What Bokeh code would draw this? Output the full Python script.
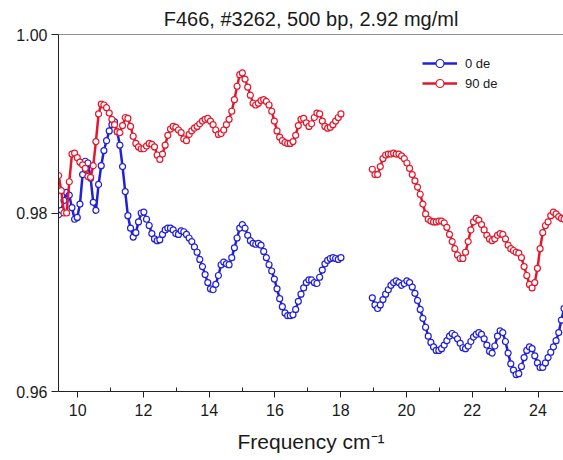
import math
from bokeh.plotting import figure
from bokeh.models import Range1d, FixedTicker, Span, Legend, LegendItem, PrintfTickFormatter
from bokeh.embed import file_html
from bokeh.resources import INLINE

title_text = "F466, #3262, 500 bp, 2.92 mg/ml"
x_label = "Frequency cm\u207b\u00b9"
series_names = ["0 de", "90 de"]
x_ticks = [10, 12, 14, 16, 18, 20, 22, 24]
x_minor = [11, 13, 15, 17, 19, 21, 23]
y_ticks = [0.96, 0.98, 1.00]

# frequency sampling (cm^-1) of the two measured windows
freq_seg1 = [round(9.42 + 0.081 * i, 3) for i in range(107)]
freq_seg2 = [round(18.96 + 0.081 * i, 3) for i in range(74)]

blue_seg1 = [
    0.9798, 0.9803, 0.9814, 0.9823, 0.9820, 0.9806, 0.9793, 0.9795, 0.9810, 0.9843,
    0.9858, 0.9856, 0.9839, 0.9812, 0.9803, 0.9832, 0.9853, 0.9870, 0.9881, 0.9892,
    0.9899, 0.9902, 0.9891, 0.9876, 0.9852, 0.9824, 0.9797, 0.9783, 0.9773, 0.9778,
    0.9790, 0.9800, 0.9801, 0.9793, 0.9786, 0.9777, 0.9771, 0.9769, 0.9770, 0.9776,
    0.9781, 0.9783, 0.9783, 0.9781, 0.9777, 0.9776, 0.9780, 0.9779, 0.9776, 0.9772,
    0.9768, 0.9762, 0.9756, 0.9748, 0.9740, 0.9731, 0.9722, 0.9715, 0.9714, 0.9720,
    0.9730, 0.9742, 0.9745, 0.9743, 0.9742, 0.9750, 0.9761, 0.9772, 0.9783, 0.9787,
    0.9783, 0.9775, 0.9769, 0.9766, 0.9765, 0.9766, 0.9764, 0.9757, 0.9750, 0.9742,
    0.9735, 0.9726, 0.9715, 0.9704, 0.9695, 0.9688, 0.9685, 0.9685, 0.9686, 0.9692,
    0.9701, 0.9709, 0.9716, 0.9722, 0.9725, 0.9725, 0.9722, 0.9721, 0.9728, 0.9736,
    0.9743, 0.9747, 0.9749, 0.9750, 0.9749, 0.9748, 0.9750,
]
red_seg1 = [
    0.9842, 0.9825, 0.9800, 0.9800, 0.9835, 0.9866, 0.9867, 0.9862, 0.9857, 0.9854,
    0.9850, 0.9841, 0.9840, 0.9853, 0.9880, 0.9911, 0.9922, 0.9921, 0.9918, 0.9912,
    0.9905, 0.9899, 0.9891, 0.9890, 0.9898, 0.9907, 0.9906, 0.9897, 0.9886, 0.9878,
    0.9874, 0.9872, 0.9872, 0.9875, 0.9878, 0.9877, 0.9874, 0.9865, 0.9860, 0.9866,
    0.9876, 0.9887, 0.9894, 0.9897, 0.9896, 0.9893, 0.9890, 0.9883, 0.9881, 0.9888,
    0.9892, 0.9895, 0.9897, 0.9900, 0.9903, 0.9905, 0.9906, 0.9903, 0.9899, 0.9893,
    0.9888, 0.9889, 0.9893, 0.9899, 0.9905, 0.9914, 0.9927, 0.9942, 0.9955, 0.9957,
    0.9950, 0.9941, 0.9932, 0.9923, 0.9921, 0.9923, 0.9926, 0.9927, 0.9925, 0.9921,
    0.9914, 0.9903, 0.9892, 0.9885, 0.9881, 0.9879, 0.9878, 0.9878, 0.9880, 0.9887,
    0.9898, 0.9905, 0.9906, 0.9901, 0.9897, 0.9900, 0.9907, 0.9912, 0.9911, 0.9903,
    0.9897, 0.9895, 0.9896, 0.9899, 0.9903, 0.9907, 0.9911,
]
blue_seg2 = [
    0.9705, 0.9697, 0.9693, 0.9697, 0.9703, 0.9709, 0.9714, 0.9719, 0.9722, 0.9724,
    0.9722, 0.9719, 0.9721, 0.9724, 0.9722, 0.9717, 0.9710, 0.9702, 0.9692, 0.9682,
    0.9672, 0.9662, 0.9655, 0.9650, 0.9646, 0.9646, 0.9648, 0.9652, 0.9657, 0.9662,
    0.9665, 0.9663, 0.9659, 0.9654, 0.9649, 0.9648, 0.9651, 0.9656, 0.9661, 0.9664,
    0.9666, 0.9664, 0.9659, 0.9652, 0.9645, 0.9643, 0.9651, 0.9662, 0.9668, 0.9666,
    0.9656, 0.9643, 0.9631, 0.9624, 0.9619, 0.9620, 0.9628, 0.9638, 0.9646, 0.9650,
    0.9648, 0.9640, 0.9632, 0.9627, 0.9627, 0.9632, 0.9638, 0.9644, 0.9650, 0.9657,
    0.9666, 0.9680, 0.9693, 0.9705,
]
red_seg2 = [
    0.9849, 0.9843, 0.9843, 0.9852, 0.9861, 0.9865, 0.9866, 0.9866, 0.9867, 0.9866,
    0.9866, 0.9864, 0.9861, 0.9856, 0.9850, 0.9843, 0.9836, 0.9829, 0.9821, 0.9810,
    0.9799, 0.9793, 0.9791, 0.9790, 0.9790, 0.9791, 0.9791, 0.9789, 0.9784, 0.9776,
    0.9768, 0.9760, 0.9753, 0.9749, 0.9749, 0.9756, 0.9768, 0.9781, 0.9790, 0.9794,
    0.9792, 0.9787, 0.9781, 0.9775, 0.9771, 0.9769, 0.9771, 0.9775, 0.9777, 0.9776,
    0.9771, 0.9764, 0.9760, 0.9758, 0.9756, 0.9755, 0.9750, 0.9740, 0.9730, 0.9720,
    0.9716, 0.9722, 0.9738, 0.9760, 0.9778, 0.9786, 0.9790, 0.9797, 0.9801, 0.9799,
    0.9796, 0.9794, 0.9793, 0.9791,
]

BLUE = "#2020d8"
RED = "#e4182c"
FONT = "Liberation Sans"

p = figure(width=563, height=460, output_backend="svg", toolbar_location=None,
           x_range=Range1d(9.416, 24.775), y_range=Range1d(0.96, 1.0),
           min_border_left=58, min_border_right=0, min_border_top=33, min_border_bottom=69,
           title=title_text)
p.outline_line_color = None
p.xgrid.visible = False
p.ygrid.visible = False
p.background_fill_color = "white"
p.border_fill_color = "white"

p.title.align = "center"
p.title.text_font = FONT
p.title.text_font_size = "20px"
p.title.text_font_style = "normal"
p.title.text_color = "#1a1a1a"

xs = freq_seg1 + [math.nan] + freq_seg2
renderers = {}
for name, seg1, seg2, col in [(series_names[0], blue_seg1, blue_seg2, BLUE),
                              (series_names[1], red_seg1, red_seg2, RED)]:
    ys = seg1 + [math.nan] + seg2
    ln = p.line(xs, ys, line_color=col, line_width=2.5)
    sc = p.scatter(xs, ys, marker="circle", size=6, fill_color="white",
                   line_color=col, line_width=1.2)
    renderers[name] = [ln, sc]

p.add_layout(Span(location=1.0, dimension="width", line_color="#222222", line_width=1))

for ax in (p.xaxis[0], p.yaxis[0]):
    ax.axis_line_color = "#222222"
    ax.major_tick_line_color = "#222222"
    ax.minor_tick_line_color = "#222222"
    ax.major_label_text_font = FONT
    ax.major_label_text_font_size = "16px"
    ax.major_label_text_color = "#1a1a1a"

p.xaxis.ticker = FixedTicker(ticks=x_ticks, minor_ticks=x_minor)
p.xaxis.major_tick_out = 6
p.xaxis.major_tick_in = 0
p.xaxis.minor_tick_in = 4
p.xaxis.minor_tick_out = 0
p.xaxis.major_label_standoff = 6
p.xaxis.axis_label = x_label
p.xaxis.axis_label_text_font = FONT
p.xaxis.axis_label_text_font_size = "21px"
p.xaxis.axis_label_text_font_style = "normal"
p.xaxis.axis_label_text_color = "#1a1a1a"
p.xaxis.axis_label_standoff = 11

p.yaxis.ticker = FixedTicker(ticks=y_ticks, minor_ticks=[])
p.yaxis.formatter = PrintfTickFormatter(format="%.2f")
p.yaxis.major_tick_out = 7
p.yaxis.major_tick_in = 0
p.yaxis.major_label_standoff = 4

legend = Legend(items=[LegendItem(label=n, renderers=renderers[n]) for n in series_names],
                location=(364, 298), border_line_color=None, background_fill_alpha=0,
                padding=0, margin=0, spacing=0, glyph_width=35, glyph_height=20,
                label_standoff=8, label_height=20,
                label_text_font=FONT, label_text_font_size="13px", label_text_color="#1a1a1a")
p.add_layout(legend)

open("out.html", "w").write(file_html(p, INLINE))
